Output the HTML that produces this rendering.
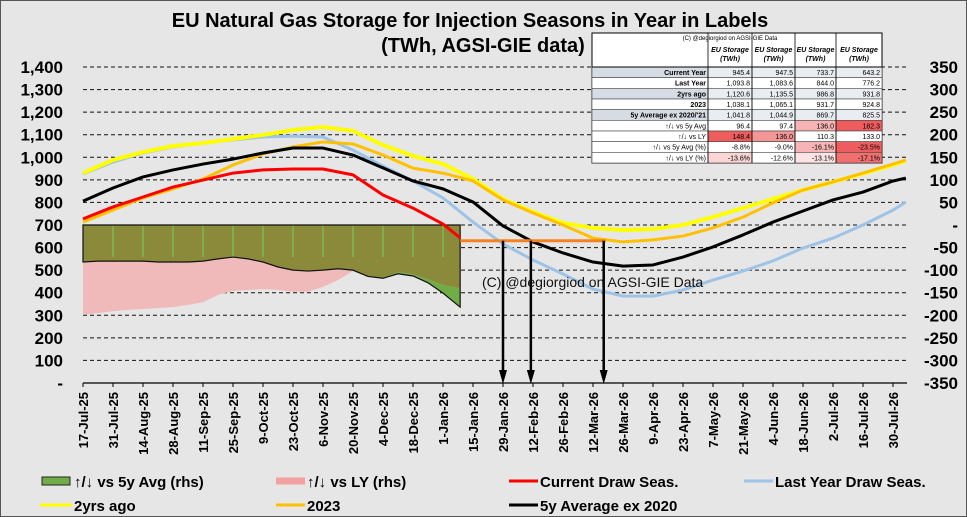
<!DOCTYPE html>
<html><head><meta charset="utf-8"><style>
body{margin:0;background:#e6e6e6;}
svg{display:block;font-family:"Liberation Sans",Arial,sans-serif;}
</style></head><body>
<svg id="c" width="967" height="517" viewBox="0 0 967 517">
<rect x="0.5" y="0.5" width="966" height="516" fill="#e6e6e6" stroke="#555"/>
<text x="470" y="27" text-anchor="middle" font-size="20" font-weight="bold">EU Natural Gas Storage for Injection Seasons in Year in Labels</text>
<text x="483" y="52" text-anchor="middle" font-size="20" font-weight="bold">(TWh, AGSI-GIE data)</text>
<g id="grid"></g><g id="bars"></g><g id="lines"></g><g id="axes"></g>
<text x="482" y="287" font-size="14" fill="#111">(C) @degiorgiod on AGSI-GIE Data</text>
<g id="table"></g>
<g id="legend"></g>
</svg>
<script>
// ---- data ----
const tickLabels=["17-Jul-25","31-Jul-25","14-Aug-25","28-Aug-25","11-Sep-25","25-Sep-25","9-Oct-25","23-Oct-25","6-Nov-25","20-Nov-25","4-Dec-25","18-Dec-25","1-Jan-26","15-Jan-26","29-Jan-26","12-Feb-26","26-Feb-26","12-Mar-26","26-Mar-26","9-Apr-26","23-Apr-26","7-May-26","21-May-26","4-Jun-26","18-Jun-26","2-Jul-26","16-Jul-26","30-Jul-26"];
const leftTicks=[0,100,200,300,400,500,600,700,800,900,1000,1100,1200,1300,1400];
const rightTicks=[350,300,250,200,150,100,50,0,-50,-100,-150,-200,-250,-300,-350];
const seriesDays=[0,14,28,42,56,70,84,98,112,126,140,154,168,182,196,210,224,238,252,266,280,294,308,322,336,350,364,378,384];
const currentDraw=[727,780,824,868,899,930,944,948,948,922,833,775,704];
const currentEnd={day:176,value:643};
const lastYear=[926,979,1019,1046,1063,1077,1090,1094,1090,1032,961,895,820,713,616,545,483,416,385,385,412,456,496,541,598,642,700,766,802];
const twoYrsAgo=[930,988,1023,1050,1063,1081,1099,1121,1134,1117,1054,1006,970,904,815,758,709,687,678,682,700,735,775,815,855,891,928,966,984];
const y2023=[713,766,820,860,904,966,1015,1046,1068,1059,1010,952,930,895,811,753,700,642,625,634,651,687,735,798,855,891,930,970,988];
const avg5y=[806,864,913,944,970,992,1019,1041,1041,1010,953,895,860,802,696,625,576,536,518,523,558,603,656,713,762,811,846,895,908];
// weekly deltas (rhs, TWh), day = index*7
const deltaDays=[0,7,14,21,28,35,42,49,56,63,70,77,84,91,98,105,112,119,126,133,140,147,154,161,168,176];
const vs5y=[-82,-80,-80,-80,-80,-82,-82,-82,-80,-75,-71,-75,-82,-93,-100,-102,-100,-97,-100,-114,-118,-108,-113,-128,-151,-182];
const vsLY=[-199,-195,-191,-188,-186,-184,-182,-177,-171,-155,-146,-144,-142,-144,-148,-148,-137,-122,-102,-114,-118,-104,-109,-120,-133,-140];
const flatLevel=630, flatStartDay=176, flatEndDay=244;
const arrowDays=[196,209,243];
// ---- scales ----
const X0=83,DPX=30/14,YB=383,YT=67;
const xs=d=>X0+d*DPX;
const yl=v=>YB-(v/1400)*(YB-YT);
const yr=v=>YB-((v+350)/700)*(YB-YT);
const NS="http://www.w3.org/2000/svg";
function mk(tag,attrs,parent){const e=document.createElementNS(NS,tag);for(const k in attrs)e.setAttribute(k,attrs[k]);parent.appendChild(e);return e;}
const grid=document.getElementById('grid'),axes=document.getElementById('axes'),bars=document.getElementById('bars'),lines=document.getElementById('lines');
leftTicks.forEach(v=>{
  if(v>0){const g=mk('line',{x1:X0,x2:907,y1:yl(v),y2:yl(v),stroke:'#111','stroke-width':1,'stroke-dasharray':'4,3'},grid);
  
  }
  const t=mk('text',{x:63,y:yl(v)+6,'text-anchor':'end','font-size':17,'font-weight':'bold'},axes);
  t.textContent=v===0?'-':v.toLocaleString('en-US');
  
  
});
rightTicks.forEach(v=>{
  const t=mk('text',{x:958,y:yr(v)+6,'text-anchor':'end','font-size':17,'font-weight':'bold'},axes);
  t.textContent=v===0?'-':String(v);
  
  
});
const ax=mk('line',{x1:X0,x2:907,y1:YB,y2:YB,stroke:'#000','stroke-width':1.2},axes);


tickLabels.forEach((l,i)=>{
  const x=xs(i*14);
  mk('line',{x1:x,x2:x,y1:YB,y2:YB+4,stroke:'#000'},axes);
  const t=mk('text',{x:0,y:0,'text-anchor':'end','font-size':13,'font-weight':'bold',transform:`translate(${x+5},${YB+9}) rotate(-90)`},axes);
  t.textContent=l;
  
  
});
// delta bars drawn as dense areas
const y0=yr(0);
function area(vals,fill,name){
  let d='M'+xs(deltaDays[0])+','+y0;
  vals.forEach((v,i)=>{d+=' L'+xs(deltaDays[i])+','+yr(v);});
  d+=' L'+xs(deltaDays[deltaDays.length-1])+','+y0+' Z';
  const p=mk('path',{d:d,fill:fill},bars);
  
  
}
area(vs5y,'#70ad47','bars-vs-5y-avg');
area(vsLY,'#f0baba','bars-vs-last-year');
area(vs5y.map((v,i)=>Math.max(v,vsLY[i])),'#8a8a3a','bars-overlap');
for(let d=14;d<=168;d+=14){mk('line',{x1:xs(d),x2:xs(d),y1:y0,y2:y0+32,stroke:'#7cb84e','stroke-width':1.5},bars);}
let op='M'+X0+','+y0+' L'+xs(deltaDays[0])+','+yr(vs5y[0]);
vs5y.forEach((v,i)=>{op+=' L'+xs(deltaDays[i])+','+yr(v);});
op+=' L'+xs(currentEnd.day)+','+y0+' Z';
const ol=mk('path',{d:op,fill:'none',stroke:'#111','stroke-width':1.2},bars);


function line(vals,color,w,name,extra){
  let d='';vals.forEach((v,i)=>{d+=(i?' L':'M')+xs(seriesDays[i])+','+yl(v);});
  if(extra)d+=' L'+xs(extra.day)+','+yl(extra.value);
  const p=mk('path',{d:d,fill:'none',stroke:color,'stroke-width':w,'stroke-linejoin':'round'},lines);
  
  
}
line(lastYear,'#9dc3e6',3,'last-year-line');
line(twoYrsAgo,'#ffff00',4,'two-years-ago-line');
line(y2023,'#ffc000',3,'line-2023');
line(avg5y,'#000',3,'five-year-average-line');
line(currentDraw,'#ff0000',3,'current-draw-line',currentEnd);
const fl=mk('line',{x1:xs(flatStartDay),x2:xs(flatEndDay),y1:yl(flatLevel),y2:yl(flatLevel),stroke:'#f58220','stroke-width':3},lines);


arrowDays.forEach(d=>{
  const x=xs(d);
  const a=mk('line',{x1:x,x2:x,y1:yl(flatLevel),y2:YB-10,stroke:'#000','stroke-width':2.5},lines);
  
  
  mk('polygon',{points:`${x-4},${YB-13} ${x+4},${YB-13} ${x},${YB+1}`,fill:'#000'},lines);
});
// table
const tb=document.getElementById('table');
const cols=[592,708,752,795,836,882];
const rows=[["Current Year","945.4","947.5","733.7","643.2"],["Last Year","1,093.8","1,083.6","844.0","776.2"],["2yrs ago","1,120.6","1,135.5","986.8","931.8"],["2023","1,038.1","1,065.1","931.7","924.8"],["5y Average ex 2020/'21","1,041.8","1,044.9","869.7","825.5"],["↑/↓ vs 5y Avg","96.4","97.4","136.0","182.3"],["↑/↓ vs LY","148.4","136.0","110.3","133.0"],["↑/↓ vs 5y Avg (%)","-8.8%","-9.0%","-16.1%","-23.5%"],["↑/↓ vs LY (%)","-13.6%","-12.6%","-13.1%","-17.1%"]];
const fills=[[null,null,null,null],[null,null,null,null],[null,null,null,null],[null,null,null,null],[null,null,null,null],['#fff','#fff','#f7b4b4','#ee5d5d'],['#ee5d5d','#f29696','#fff','#fff'],['#fff','#fff','#f7b4b4','#ee5d5d'],['#fbd4d4','#fff','#fde4e4','#f07070']];
mk('rect',{x:592,y:33,width:290,height:130,fill:'#fff',stroke:'#000'},tb);
const ct=mk('text',{x:730,y:40,'text-anchor':'middle','font-size':6},tb);ct.textContent='(C) @degiorgiod on AGSI-GIE Data';
for(let c=1;c<5;c++){const h=mk('text',{x:(cols[c]+cols[c+1])/2,y:52,'text-anchor':'middle','font-size':7,'font-weight':'bold','font-style':'italic'},tb);h.textContent='EU Storage';
const h2=mk('text',{x:(cols[c]+cols[c+1])/2,y:61,'text-anchor':'middle','font-size':7,'font-weight':'bold','font-style':'italic'},tb);h2.textContent='(TWh)';}
const RH=96/9;
rows.forEach((r,i)=>{
  const y=67+i*RH, shade=(i%2===0&&i<5);
  r.forEach((v,c)=>{
    let f=c===0?(shade?'#d6dce4':'#fff'):(shade?'#e9edf2':'#fff');
    if(c>0&&fills[i][c-1])f=fills[i][c-1];
    mk('rect',{x:cols[c],y:y,width:cols[c+1]-cols[c],height:RH,fill:f,stroke:'#444','stroke-width':0.6},tb);
    const t=mk('text',{x:cols[c+1]-2,y:y+8,'text-anchor':'end','font-size':7,'font-weight':c===0&&i<5?'bold':'normal'},tb);t.textContent=v;
    
    
  });
});
for(let c=1;c<5;c++)mk('line',{x1:cols[c],x2:cols[c],y1:33,y2:163,stroke:'#000','stroke-width':0.8},tb);
mk('line',{x1:592,x2:882,y1:67,y2:67,stroke:'#000'},tb);
// legend
const lg=document.getElementById('legend');
const legendItems=[["box",'#70ad47',42,483,74,"↑/↓ vs 5y Avg (rhs)"],["line",'#f2a0a0',276,483,307,"↑/↓ vs LY (rhs)"],["line",'#ff0000',509,483,540,"Current Draw Seas."],["line",'#9dc3e6',744,483,775,"Last Year Draw Seas."],["line",'#ffff00',40,507,74,"2yrs ago"],["line",'#ffc000',276,507,307,"2023"],["line",'#000',509,507,540,"5y Average ex 2020"]];
legendItems.forEach(it=>{
  const g=mk('g',{},lg);
  
  
  if(it[0]==='box')mk('rect',{x:it[2],y:it[3]-6,width:28,height:8,fill:it[1],stroke:'#222'},g);
  else mk('line',{x1:it[2],x2:it[4]-2,y1:it[3]-2,y2:it[3]-2,stroke:it[1],'stroke-width':it[1]==='#f2a0a0'?7:3},g);
  const t=mk('text',{x:it[4],y:it[3]+4,'font-size':15,'font-weight':'bold'},g);t.textContent=it[5];
});
</script>
</body></html>
